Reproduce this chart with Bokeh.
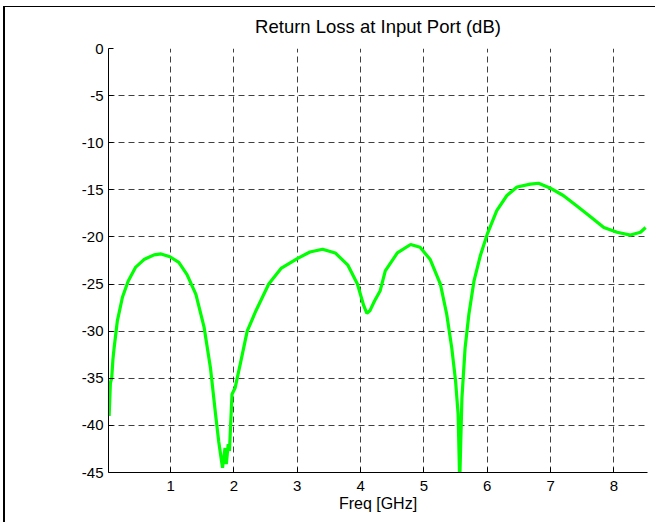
from bokeh.plotting import figure
from bokeh.models import FixedTicker, Range1d, GlobalInlineStyleSheet
from bokeh.embed import file_html
from bokeh.resources import INLINE

# ---- data ----
freq_ghz = [0.03, 0.05, 0.07, 0.09, 0.11, 0.16, 0.24, 0.33, 0.45, 0.58,
            0.74, 0.85, 0.99, 1.13, 1.26, 1.40, 1.53, 1.63, 1.71, 1.76,
            1.82, 1.86, 1.88, 1.91, 1.93, 1.97, 2.02, 2.10, 2.21, 2.35,
            2.55, 2.75, 3.00, 3.20, 3.40, 3.60, 3.80, 3.95, 4.05, 4.10,
            4.15, 4.22, 4.31, 4.39, 4.58, 4.79, 4.94, 5.10, 5.26, 5.36,
            5.44, 5.50, 5.54, 5.565, 5.60, 5.65, 5.71, 5.79, 5.89, 6.00,
            6.15, 6.31, 6.47, 6.68, 6.81, 6.99, 7.20, 7.41, 7.62, 7.84,
            8.05, 8.26, 8.42, 8.50]
return_loss_db = [-39.0, -35.5, -35.0, -33.0, -31.7, -28.9, -26.4, -24.7, -23.2, -22.4,
                  -21.9, -21.8, -22.1, -22.7, -24.0, -26.1, -29.6, -33.9, -38.8, -41.7,
                  -44.5, -42.4, -44.1, -42.0, -42.7, -36.7, -36.0, -33.5, -30.0, -27.8,
                  -25.0, -23.3, -22.3, -21.6, -21.3, -21.7, -23.0, -25.0, -27.3, -28.1,
                  -27.8, -26.8, -25.7, -23.6, -21.7, -20.8, -21.1, -22.4, -25.0, -28.2,
                  -31.8, -35.3, -38.8, -46.0, -37.1, -31.8, -28.2, -24.7, -22.0, -19.7,
                  -17.2, -15.6, -14.7, -14.4, -14.3, -14.8, -15.6, -16.7, -17.8, -19.0,
                  -19.5, -19.8, -19.5, -19.0]
x_ticks = [1, 2, 3, 4, 5, 6, 7, 8]
y_ticks = [-45, -40, -35, -30, -25, -20, -15, -10, -5, 0]
y_tick_labels = ["-45", "-40", "-35", "-30", "-25", "-20", "-15", "-10", "-5", "0"]
title_text = "Return Loss at Input Port (dB)"
x_label = "Freq [GHz]"

FONT = "Liberation Sans"

page_css = """
html, body { margin: 0 !important; overflow: hidden; }
body::before { content: ''; position: fixed; left: 3.3px; top: 5.7px; width: 1.8px;
               bottom: 0; background: #000; z-index: 1000; }
body::after { content: ''; position: fixed; left: 3.3px; top: 5.7px; right: 0;
              height: 1.8px; background: #000; z-index: 1000; }
"""

p = figure(width=652, height=520, output_backend="svg", toolbar_location=None,
           x_range=Range1d(0.02, 8.53), y_range=Range1d(-45, 0),
           min_border_left=108, min_border_right=5, min_border_top=48,
           min_border_bottom=48, title=title_text)
p.stylesheets = [GlobalInlineStyleSheet(css=page_css)]

p.title.align = "center"
p.title.vertical_align = "middle"
p.title.text_font = FONT
p.title.text_font_size = "18.5px"
p.title.text_font_style = "normal"
p.title.text_color = "black"
p.title.standoff = 22

p.outline_line_color = None
p.background_fill_color = "white"
p.border_fill_color = "white"

for ax in (p.xaxis[0], p.yaxis[0]):
    ax.axis_line_color = "black"
    ax.axis_line_width = 1
    ax.major_tick_in = 5
    ax.major_tick_out = 0
    ax.minor_tick_line_color = None
    ax.major_tick_line_color = "black"
    ax.major_label_text_font = FONT
    ax.major_label_text_font_size = "15px"
    ax.major_label_text_color = "black"

p.xaxis.ticker = FixedTicker(ticks=x_ticks)
p.yaxis.ticker = FixedTicker(ticks=y_ticks)
p.yaxis.major_label_overrides = {t: s for t, s in zip(y_ticks, y_tick_labels)}
p.xaxis.major_label_standoff = 8
p.yaxis.major_label_standoff = 5
p.xaxis.axis_label = x_label
p.xaxis.axis_label_text_font = FONT
p.xaxis.axis_label_text_font_size = "16px"
p.xaxis.axis_label_text_font_style = "normal"
p.xaxis.axis_label_text_color = "black"
p.xaxis.axis_label_standoff = 1

for g in (p.xgrid[0], p.ygrid[0]):
    g.grid_line_color = "black"
    g.grid_line_alpha = 0.75
    g.grid_line_dash = "6 4"
    g.grid_line_width = 1
p.xgrid.ticker = FixedTicker(ticks=x_ticks)
p.ygrid.ticker = FixedTicker(ticks=y_ticks)

p.line(freq_ghz, return_loss_db, line_color="#00ff00", line_width=3.2)

open("out.html", "w").write(file_html(p, INLINE))
